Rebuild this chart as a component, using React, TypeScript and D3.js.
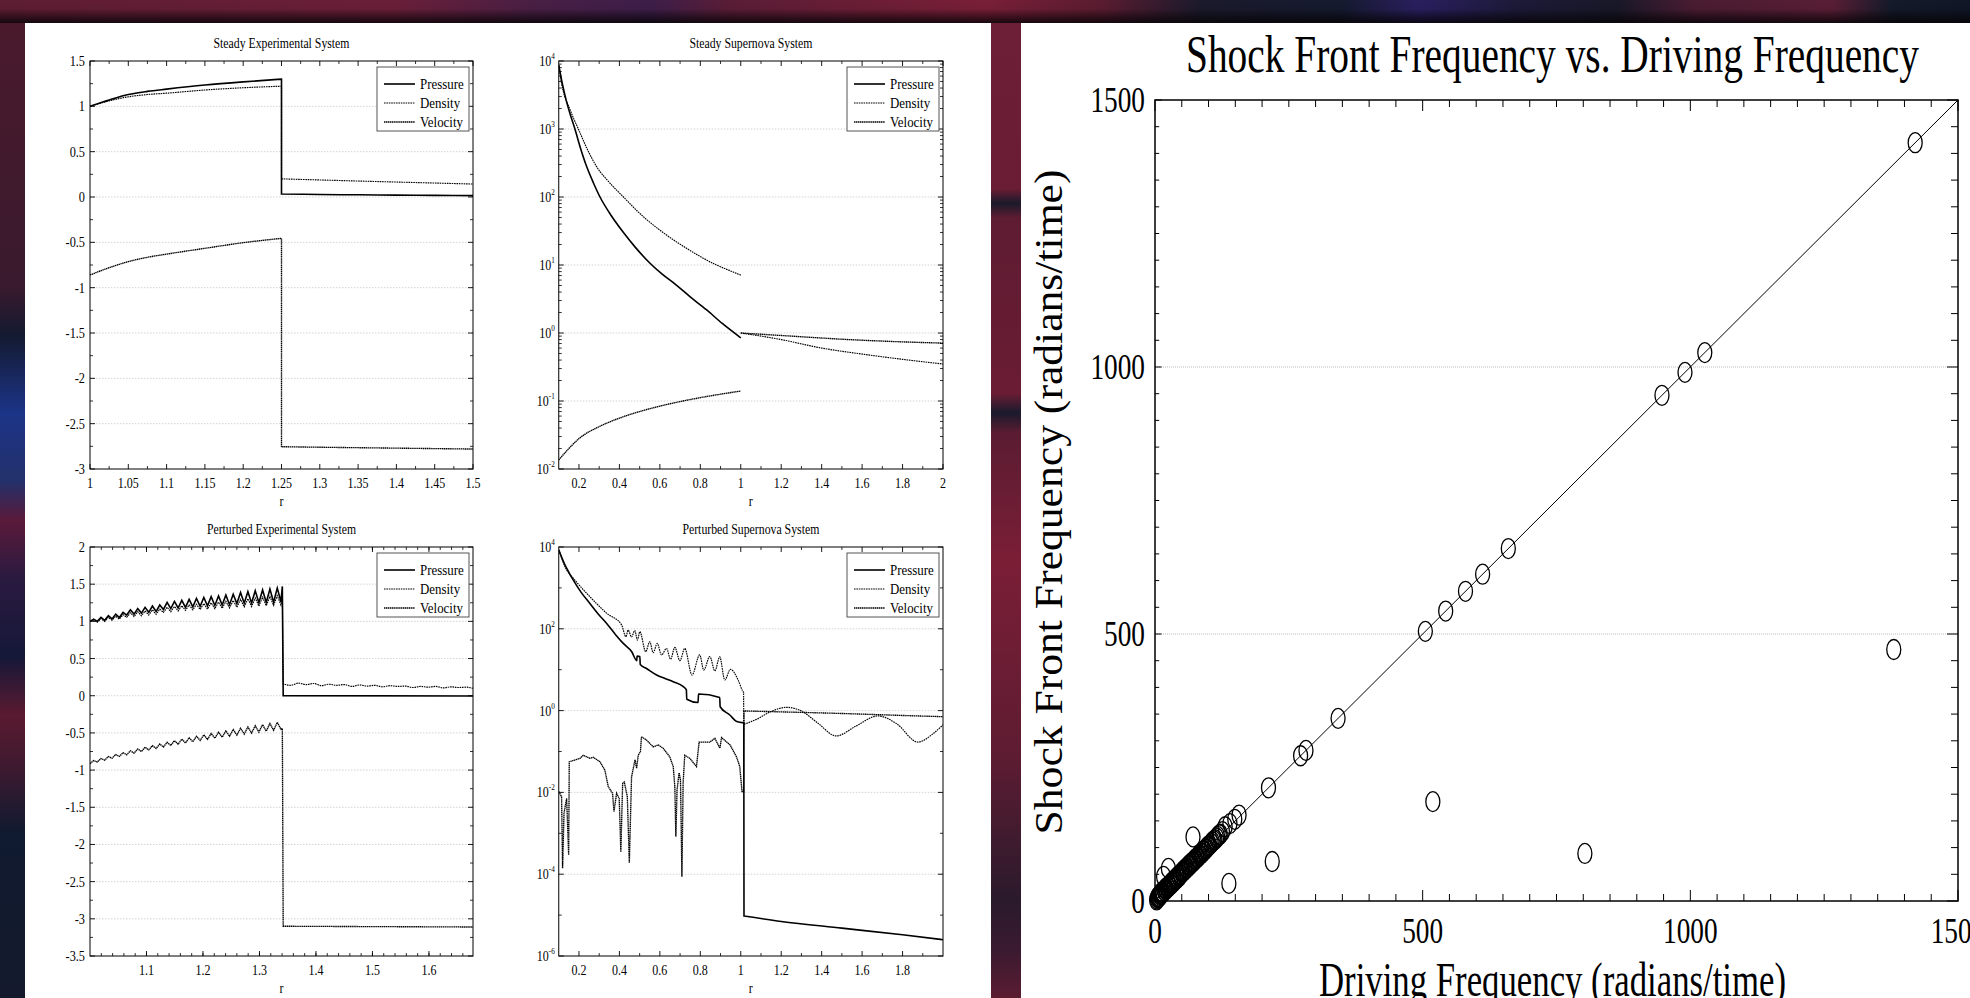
import React from "react";
import * as d3 from "d3";

const W = 1970;
const H = 998;
const FONT = "'Liberation Serif', 'Times New Roman', Times, serif";

// ---------------- Steady Experimental System ----------------
const seRIn = [1.0, 1.025, 1.05, 1.075, 1.1, 1.15, 1.2, 1.25];
const sePressureIn = [1.0, 1.07, 1.13, 1.165, 1.19, 1.235, 1.27, 1.3];
const seDensityIn = [1.0, 1.06, 1.105, 1.13, 1.145, 1.18, 1.205, 1.222];
const seVelocityIn = [-0.86, -0.78, -0.713, -0.665, -0.63, -0.566, -0.504, -0.456];
const seROut = [1.25, 1.3, 1.35, 1.4, 1.45, 1.5];
const sePressureOut = [0.033, 0.028, 0.024, 0.021, 0.018, 0.015];
const seDensityOut = [0.2, 0.188, 0.176, 0.165, 0.154, 0.143];
const seVelocityOut = [-2.754, -2.76, -2.765, -2.77, -2.775, -2.78];

// ---------------- Steady Supernova System ----------------
const ssPressureR = [0.1, 0.118, 0.136, 0.155, 0.18, 0.208, 0.238, 0.27, 0.304, 0.36, 0.42, 0.48, 0.55, 0.61, 0.68, 0.75, 0.83, 0.91, 1.0];
const ssPressure = [8700, 4600, 2700, 1700, 1000, 518, 280, 165, 100, 53, 30, 18, 10.7, 7.4, 5.1, 3.4, 2.2, 1.37, 0.85];
const ssDensityR = [0.1, 0.114, 0.155, 0.197, 0.24, 0.287, 0.35, 0.42, 0.51, 0.616, 0.74, 0.88, 0.94, 1.0];
const ssDensity = [8700, 4700, 1950, 1000, 513, 280, 164, 100, 54, 30, 17, 10, 8.4, 7.1];
const ssDensityOutR = [1.0, 1.2, 1.4, 1.6, 1.8, 2.0];
const ssDensityOut = [1.0, 0.8, 0.6, 0.49, 0.41, 0.35];
const ssVelocityR = [0.1, 0.15, 0.2, 0.3, 0.4, 0.5, 0.6, 0.7, 0.8, 0.9, 1.0];
const ssVelocity = [0.0136, 0.02, 0.028, 0.042, 0.056, 0.07, 0.084, 0.098, 0.112, 0.126, 0.14];
const ssVelocityOutR = [1.0, 1.25, 1.5, 1.75, 2.0];
const ssVelocityOut = [1.0, 0.9, 0.81, 0.75, 0.71];

// ---------------- Perturbed Experimental System ----------------
const peR = [1.0, 1.0065, 1.013, 1.0195, 1.026, 1.0325, 1.039, 1.0455, 1.052, 1.0585, 1.065, 1.0715, 1.078, 1.0845, 1.091, 1.0975, 1.104, 1.1105, 1.117, 1.1235, 1.13, 1.1365, 1.143, 1.1495, 1.156, 1.1625, 1.169, 1.1755, 1.182, 1.1885, 1.195, 1.2015, 1.208, 1.2145, 1.221, 1.2275, 1.234, 1.2405, 1.247, 1.2535, 1.26, 1.2665, 1.273, 1.2795, 1.286, 1.2925, 1.299, 1.3055, 1.312, 1.3185, 1.325, 1.3315, 1.338, 1.3405];
const pePressure = [1.0, 1.03, 1.0, 1.055, 1.015, 1.077, 1.033, 1.098, 1.052, 1.12, 1.085, 1.155, 1.098, 1.172, 1.111, 1.188, 1.122, 1.206, 1.132, 1.22, 1.16, 1.255, 1.171, 1.269, 1.18, 1.283, 1.188, 1.295, 1.196, 1.308, 1.203, 1.321, 1.209, 1.332, 1.214, 1.343, 1.219, 1.354, 1.224, 1.365, 1.239, 1.387, 1.243, 1.399, 1.247, 1.411, 1.251, 1.423, 1.255, 1.435, 1.259, 1.447, 1.263, 1.47];
const peDensity = [1.0, 1.015, 0.99, 1.035, 1.0, 1.055, 1.015, 1.07, 1.03, 1.09, 1.055, 1.115, 1.065, 1.13, 1.075, 1.14, 1.085, 1.155, 1.095, 1.165, 1.12, 1.19, 1.13, 1.2, 1.14, 1.21, 1.148, 1.22, 1.155, 1.23, 1.16, 1.24, 1.165, 1.25, 1.17, 1.26, 1.175, 1.27, 1.18, 1.28, 1.19, 1.295, 1.195, 1.305, 1.2, 1.315, 1.205, 1.325, 1.21, 1.335, 1.215, 1.345, 1.22, 1.3];
const peVelocity = [-0.915, -0.871, -0.891, -0.844, -0.866, -0.817, -0.841, -0.79, -0.817, -0.765, -0.794, -0.74, -0.772, -0.716, -0.75, -0.693, -0.729, -0.671, -0.709, -0.649, -0.689, -0.626, -0.669, -0.604, -0.652, -0.584, -0.635, -0.565, -0.619, -0.545, -0.602, -0.526, -0.587, -0.508, -0.572, -0.491, -0.558, -0.473, -0.544, -0.455, -0.53, -0.437, -0.515, -0.42, -0.502, -0.404, -0.49, -0.388, -0.477, -0.373, -0.465, -0.358, -0.451, -0.44];
const peROut = [1.342, 1.3555, 1.369, 1.3825, 1.396, 1.4095, 1.423, 1.4365, 1.45, 1.4635, 1.477, 1.4905, 1.504, 1.5175, 1.531, 1.5445, 1.558, 1.5715, 1.585, 1.5985, 1.612, 1.6255, 1.639, 1.6525, 1.666, 1.678];
const peDensityOut = [0.16, 0.14, 0.17, 0.15, 0.165, 0.135, 0.155, 0.14, 0.15, 0.125, 0.145, 0.13, 0.14, 0.12, 0.135, 0.125, 0.13, 0.11, 0.125, 0.115, 0.125, 0.105, 0.12, 0.11, 0.115, 0.1];
const peFlatR = [1.342, 1.678];
const pePressureOut = [0.002, -0.003];
const peVelocityOut = [-3.1, -3.11];

// ---------------- Perturbed Supernova System ----------------
const psPressureR = [0.1, 0.115, 0.13, 0.15, 0.172, 0.21, 0.254, 0.295, 0.337, 0.38, 0.419, 0.461, 0.486, 0.487, 0.501, 0.503, 0.534, 0.584, 0.625, 0.666, 0.716, 0.731, 0.733, 0.789, 0.791, 0.896, 0.898, 0.946, 0.98, 1.015];
const psPressure = [8500, 5500, 3700, 2400, 1550, 790, 415, 230, 135, 73, 44, 27.5, 16.6, 21.5, 21, 13.4, 10.7, 7.4, 6.1, 5.1, 3.85, 3.2, 1.9, 1.58, 2.55, 2.1, 1.24, 0.78, 0.54, 0.5];
const psPressureOutR = [1.016, 1.2, 1.5, 1.8, 2.0];
const psPressureOut = [9.5e-6, 7e-6, 4.8e-6, 3.3e-6, 2.5e-6];
const psDensityR = [0.1, 0.139, 0.172, 0.254, 0.337, 0.411, 0.432, 0.443, 0.46, 0.476, 0.489, 0.501, 0.53, 0.55, 0.567, 0.587, 0.608, 0.633, 0.653, 0.674, 0.699, 0.723, 0.759, 0.797, 0.817, 0.847, 0.872, 0.896, 0.921, 0.949, 0.987, 1.008, 1.014];
const psDensity = [8500, 2750, 1720, 610, 240, 124, 64, 93, 63, 91, 53, 85, 27.5, 48, 26, 44, 23, 33, 18, 35, 16.6, 33, 7.4, 23, 9.8, 21, 9.3, 20.5, 5.6, 10.2, 5.6, 3.1, 2.8];
const psDensityOutR = [1.015, 1.08, 1.15, 1.226, 1.3, 1.38, 1.472, 1.57, 1.678, 1.77, 1.876, 1.95, 2.0];
const psDensityOut = [0.46, 0.62, 0.95, 1.2, 0.98, 0.5, 0.24, 0.42, 0.74, 0.48, 0.17, 0.27, 0.45];
const psVelocityR = [0.1, 0.114, 0.119, 0.126, 0.139, 0.149, 0.152, 0.205, 0.221, 0.254, 0.271, 0.304, 0.328, 0.345, 0.366, 0.373, 0.386, 0.399, 0.407, 0.416, 0.424, 0.439, 0.449, 0.46, 0.477, 0.485, 0.493, 0.504, 0.509, 0.534, 0.567, 0.592, 0.616, 0.649, 0.666, 0.674, 0.679, 0.685, 0.695, 0.702, 0.709, 0.715, 0.723, 0.748, 0.781, 0.794, 0.847, 0.872, 0.897, 0.905, 0.947, 0.979, 0.995, 1.006, 1.014];
const psVelocity = [0.0105, 0.0079, 1.4e-4, 0.0031, 0.0071, 2.95e-4, 0.056, 0.068, 0.081, 0.068, 0.072, 0.056, 0.035, 0.0138, 0.0095, 0.0034, 0.0095, 0.0071, 3.5e-4, 0.0166, 0.018, 0.0079, 1.9e-4, 0.024, 0.062, 0.039, 0.081, 0.1, 0.23, 0.19, 0.13, 0.145, 0.12, 0.074, 0.043, 0.0138, 8.3e-4, 0.0115, 0.03, 0.02, 8.7e-5, 0.0166, 0.081, 0.068, 0.043, 0.17, 0.17, 0.21, 0.12, 0.22, 0.145, 0.074, 0.043, 0.0105, 0.0105];
const psVelocityOutR = [1.016, 1.2, 1.5, 1.8, 2.0];
const psVelocityOut = [0.98, 0.93, 0.85, 0.76, 0.71];

// ---------------- Shock Front Frequency vs Driving Frequency ----------------
const drivingFreq = [1420, 1027, 990, 947, 660, 612, 580, 543, 505, 342, 282, 272, 212, 1380, 519, 803, 219, 138, 71, 25, 16, 11, 157, 149, 140, 131, 126, 120, 115, 110, 105, 100, 96, 92, 88, 84, 80, 76, 72, 68, 64, 60, 56, 52, 48, 45, 42, 39, 36, 33, 30, 27, 24, 21, 18, 15, 12, 10, 8, 6, 4, 3,
  5, 7, 9, 11, 13, 14, 17, 19, 20, 23, 26, 29, 32, 35, 38, 41, 44, 47, 50, 53, 55, 58, 62, 65, 67, 70, 74, 78, 82, 86, 90, 94, 98, 102, 107, 112, 117, 122];
const shockFreq = [1420, 1027, 990, 947, 660, 612, 580, 543, 505, 342, 282, 272, 212, 471, 186, 89, 74, 33, 120, 61, 46, 15, 161, 153, 145, 139, 130, 124, 118, 113, 108, 103, 98, 94, 90, 86, 82, 78, 74, 70, 66, 62, 58, 54, 50, 46, 43, 40, 37, 34, 31, 28, 25, 22, 19, 16, 13, 10, 8, 6, 4, 2,
  7, 9, 12, 13, 16, 17, 20, 22, 24, 26, 29, 32, 36, 38, 42, 44, 48, 50, 54, 56, 59, 61, 66, 68, 71, 73, 78, 81, 86, 89, 94, 97, 102, 105, 111, 115, 121, 125];
const freqTicks = [0, 500, 1000, 1500];
const legendNames = ["Pressure", "Density", "Velocity"];

// ---------------- helpers ----------------
type Seg = { r: number[]; v: number[]; smooth?: boolean };
type SeriesDef = { style: "p" | "d" | "v"; segs: Seg[]; connect: boolean };

const STYLES: Record<string, { stroke: string; width: number; dash?: string }> = {
  p: { stroke: "#000", width: 1.6 },
  d: { stroke: "#000", width: 1.15, dash: "1.6 0.8" },
  v: { stroke: "#000", width: 1.35, dash: "1.4 0.5" },
};

function seriesPath(s: SeriesDef, xs: any, ys: any): string {
  let d = "";
  s.segs.forEach((seg, i) => {
    const pts = seg.r.map((r, k) => [xs(r), ys(seg.v[k])] as [number, number]);
    const gen = d3.line().curve(seg.smooth ? d3.curveMonotoneX : d3.curveLinear);
    let p = gen(pts) || "";
    if (i > 0 && s.connect) p = "L" + p.slice(1);
    d += p;
  });
  return d;
}

function SText(props: { x: number; y: number; sx?: number; anchor?: string; size: number; children: any }) {
  const { x, y, sx = 0.8, anchor = "middle", size, children } = props;
  return (
    <text transform={`translate(${x},${y}) scale(${sx},1)`} textAnchor={anchor as any} fontSize={size} fontFamily={FONT} fill="#000">
      {children}
    </text>
  );
}

function FitText(props: { x: number; y: number; w: number; sx: number; size: number; rotate?: number; children: any }) {
  const { x, y, w, sx, size, rotate = 0, children } = props;
  return (
    <text
      transform={`translate(${x},${y}) rotate(${rotate}) scale(${sx},1)`}
      textAnchor="middle"
      fontSize={size}
      fontFamily={FONT}
      textLength={w / sx}
      lengthAdjust="spacingAndGlyphs"
      fill="#000"
    >
      {children}
    </text>
  );
}

type SubProps = {
  id: string;
  x0: number; x1: number; y0: number; y1: number;
  xDomain: [number, number]; yDomain: [number, number]; log: boolean;
  xMajor: number[]; xLabels: string[]; xMinor: number[];
  yMajor: number[]; yLabels: string[]; yMinor: number[]; yGrid: number[];
  title: string; titleW: number;
  series: SeriesDef[];
};

function Subplot(p: SubProps) {
  const xs = d3.scaleLinear().domain(p.xDomain).range([p.x0, p.x1]);
  const ys = p.log
    ? d3.scaleLog().domain(p.yDomain).range([p.y1, p.y0])
    : d3.scaleLinear().domain(p.yDomain).range([p.y1, p.y0]);
  const cx = (p.x0 + p.x1) / 2;
  const lx = p.x1 - 96;
  const ly = p.y0 + 6;
  return (
    <g>
      <defs>
        <clipPath id={p.id}>
          <rect x={p.x0} y={p.y0} width={p.x1 - p.x0} height={p.y1 - p.y0} />
        </clipPath>
      </defs>
      {p.yGrid.map((v, i) => (
        <line key={"g" + i} x1={p.x0} x2={p.x1} y1={ys(v)} y2={ys(v)} stroke="#c8c8c8" strokeWidth={0.8} strokeDasharray="1.5 1.5" />
      ))}
      <g clipPath={`url(#${p.id})`}>
        {p.series.map((s, i) => {
          const st = STYLES[s.style];
          return (
            <path key={"s" + i} d={seriesPath(s, xs, ys)} fill="none" stroke={st.stroke} strokeWidth={st.width} strokeDasharray={st.dash} />
          );
        })}
      </g>
      {p.xMinor.map((v, i) => (
        <g key={"xm" + i}>
          <line x1={xs(v)} x2={xs(v)} y1={p.y1} y2={p.y1 - 3} stroke="#000" strokeWidth={0.8} />
          <line x1={xs(v)} x2={xs(v)} y1={p.y0} y2={p.y0 + 3} stroke="#000" strokeWidth={0.8} />
        </g>
      ))}
      {p.xMajor.map((v, i) => (
        <g key={"xM" + i}>
          <line x1={xs(v)} x2={xs(v)} y1={p.y1} y2={p.y1 - 5} stroke="#000" strokeWidth={0.9} />
          <line x1={xs(v)} x2={xs(v)} y1={p.y0} y2={p.y0 + 5} stroke="#000" strokeWidth={0.9} />
          <SText x={xs(v)} y={p.y1 + 19} size={15} sx={0.8}>{p.xLabels[i]}</SText>
        </g>
      ))}
      {p.yMinor.map((v, i) => (
        <g key={"ym" + i}>
          <line x1={p.x0} x2={p.x0 + 3} y1={ys(v)} y2={ys(v)} stroke="#000" strokeWidth={0.8} />
          <line x1={p.x1} x2={p.x1 - 3} y1={ys(v)} y2={ys(v)} stroke="#000" strokeWidth={0.8} />
        </g>
      ))}
      {p.yMajor.map((v, i) => (
        <g key={"yM" + i}>
          <line x1={p.x0} x2={p.x0 + 5} y1={ys(v)} y2={ys(v)} stroke="#000" strokeWidth={0.9} />
          <line x1={p.x1} x2={p.x1 - 5} y1={ys(v)} y2={ys(v)} stroke="#000" strokeWidth={0.9} />
          {p.log ? (
            <SText x={p.x0 - 4} y={ys(v) + 5} size={15} sx={0.8} anchor="end">
              10<tspan dy={-7} fontSize={9}>{p.yLabels[i]}</tspan>
            </SText>
          ) : (
            <SText x={p.x0 - 5} y={ys(v) + 5} size={15} sx={0.82} anchor="end">{p.yLabels[i]}</SText>
          )}
        </g>
      ))}
      <rect x={p.x0} y={p.y0} width={p.x1 - p.x0} height={p.y1 - p.y0} fill="none" stroke="#000" strokeWidth={1} />
      <FitText x={cx} y={p.y0 - 13} w={p.titleW} sx={0.8} size={15}>{p.title}</FitText>
      <SText x={cx} y={p.y1 + 37} size={15} sx={0.8}>r</SText>
      <rect x={lx} y={ly} width={92} height={64} fill="#fff" stroke="#555" strokeWidth={1} />
      {legendNames.map((n, i) => {
        const st = STYLES[["p", "d", "v"][i]];
        const yy = ly + 17 + i * 19;
        return (
          <g key={"l" + i}>
            <line x1={lx + 7} x2={lx + 38} y1={yy} y2={yy} stroke={st.stroke} strokeWidth={st.width} strokeDasharray={st.dash} />
            <SText x={lx + 43} y={yy + 5} size={15} sx={0.86} anchor="start">{n}</SText>
          </g>
        );
      })}
    </g>
  );
}

function range(a: number, b: number, step: number): number[] {
  return d3.range(Math.round((b - a) / step) + 1).map((i) => +(a + i * step).toFixed(4));
}

function logMinor(lo: number, hi: number): number[] {
  const out: number[] = [];
  for (let e = lo; e < hi; e++) {
    for (let k = 2; k <= 9; k++) out.push(k * Math.pow(10, e));
  }
  return out;
}

function ShockChart() {
  const x0 = 1155, x1 = 1958, y0 = 100, y1 = 901;
  const xs = d3.scaleLinear().domain([0, 1500]).range([x0, x1]);
  const ys = d3.scaleLinear().domain([0, 1500]).range([y1, y0]);
  const minor = d3.range(0, 1501, 50);
  return (
    <g>
      <defs>
        <clipPath id="shockclip">
          <rect x={x0 - 10} y={y0} width={x1 - x0 + 10} height={y1 - y0 + 12} />
        </clipPath>
      </defs>
      {[500, 1000].map((v) => (
        <line key={"gg" + v} x1={x0} x2={x1} y1={ys(v)} y2={ys(v)} stroke="#aaa" strokeWidth={0.8} strokeDasharray="1 1" />
      ))}
      {minor.map((v) => {
        const len = v % 500 === 0 ? 11 : 7;
        return (
          <g key={"t" + v}>
            <line x1={xs(v)} x2={xs(v)} y1={y1} y2={y1 - len} stroke="#000" strokeWidth={1} />
            <line x1={xs(v)} x2={xs(v)} y1={y0} y2={y0 + len} stroke="#000" strokeWidth={1} />
            <line x1={x0} x2={x0 + len * 0.6} y1={ys(v)} y2={ys(v)} stroke="#000" strokeWidth={1} />
            <line x1={x1} x2={x1 - len} y1={ys(v)} y2={ys(v)} stroke="#000" strokeWidth={1} />
          </g>
        );
      })}
      <line x1={xs(0)} y1={ys(0)} x2={xs(1500)} y2={ys(1500)} stroke="#000" strokeWidth={1} />
      <g clipPath="url(#shockclip)">
        {drivingFreq.map((d, i) => (
          <ellipse key={"c" + i} cx={xs(d)} cy={ys(shockFreq[i])} rx={7} ry={10} fill="none" stroke="#000" strokeWidth={1.3} />
        ))}
      </g>
      <rect x={x0} y={y0} width={x1 - x0} height={y1 - y0} fill="none" stroke="#000" strokeWidth={1.5} />
      {freqTicks.map((v) => (
        <SText key={"yl" + v} x={x0 - 10} y={ys(v) + 12} size={35} sx={0.78} anchor="end">{String(v)}</SText>
      ))}
      {freqTicks.map((v) => (
        <SText key={"xl" + v} x={xs(v)} y={y1 + 42} size={35} sx={0.78}>{String(v)}</SText>
      ))}
      <FitText x={(x0 + x1) / 2 - 4} y={72} w={733} sx={0.745} size={53}>Shock Front Frequency vs. Driving Frequency</FitText>
      <FitText x={(x0 + x1) / 2 - 4} y={996} w={467} sx={0.725} size={48}>Driving Frequency (radians/time)</FitText>
      <FitText x={1062} y={502} w={665} sx={1.09} size={40} rotate={-90}>Shock Front Frequency (radians/time)</FitText>
    </g>
  );
}

export default function App() {
  const seSeries: SeriesDef[] = [
    { style: "d", connect: true, segs: [{ r: seRIn, v: seDensityIn, smooth: true }, { r: seROut, v: seDensityOut, smooth: true }] },
    { style: "v", connect: true, segs: [{ r: seRIn, v: seVelocityIn, smooth: true }, { r: seROut, v: seVelocityOut, smooth: true }] },
    { style: "p", connect: true, segs: [{ r: seRIn, v: sePressureIn, smooth: true }, { r: seROut, v: sePressureOut, smooth: true }] },
  ];
  const ssSeries: SeriesDef[] = [
    { style: "d", connect: false, segs: [{ r: ssDensityR, v: ssDensity, smooth: true }, { r: ssDensityOutR, v: ssDensityOut, smooth: true }] },
    { style: "v", connect: false, segs: [{ r: ssVelocityR, v: ssVelocity, smooth: true }, { r: ssVelocityOutR, v: ssVelocityOut, smooth: true }] },
    { style: "p", connect: false, segs: [{ r: ssPressureR, v: ssPressure, smooth: true }] },
  ];
  const peSeries: SeriesDef[] = [
    { style: "d", connect: true, segs: [{ r: peR, v: peDensity }, { r: peROut, v: peDensityOut, smooth: true }] },
    { style: "v", connect: true, segs: [{ r: peR, v: peVelocity }, { r: peFlatR, v: peVelocityOut }] },
    { style: "p", connect: true, segs: [{ r: peR, v: pePressure }, { r: peFlatR, v: pePressureOut }] },
  ];
  const psSeries: SeriesDef[] = [
    { style: "d", connect: true, segs: [{ r: psDensityR, v: psDensity, smooth: true }, { r: psDensityOutR, v: psDensityOut, smooth: true }] },
    { style: "v", connect: true, segs: [{ r: psVelocityR, v: psVelocity }, { r: psVelocityOutR, v: psVelocityOut, smooth: true }] },
    { style: "p", connect: true, segs: [{ r: psPressureR, v: psPressure, smooth: true }, { r: psPressureOutR, v: psPressureOut, smooth: true }] },
  ];

  const seY = range(-3, 1.5, 0.5);
  const peY = range(-3.5, 2, 0.5);

  return (
    <div style={{ position: "fixed", left: 0, top: 0, width: W, height: H, overflow: "hidden" }}>
      <svg width={W} height={H} viewBox={`0 0 ${W} ${H}`} style={{ display: "block" }}>
        <defs>
          <linearGradient id="bgH" x1="0" x2="1" y1="0" y2="0">
            <stop offset="0" stopColor="#5e1d33" />
            <stop offset="0.2" stopColor="#6b1f38" />
            <stop offset="0.27" stopColor="#4a1f45" />
            <stop offset="0.33" stopColor="#3d1e4a" />
            <stop offset="0.37" stopColor="#5a1d36" />
            <stop offset="0.45" stopColor="#6e1e36" />
            <stop offset="0.5" stopColor="#7a1f38" />
            <stop offset="0.56" stopColor="#5a1c30" />
            <stop offset="0.61" stopColor="#1a1a2c" />
            <stop offset="0.68" stopColor="#151a2e" />
            <stop offset="0.72" stopColor="#2a1f60" />
            <stop offset="0.77" stopColor="#1c1a38" />
            <stop offset="0.82" stopColor="#181828" />
            <stop offset="0.86" stopColor="#4a1c32" />
            <stop offset="0.93" stopColor="#5a1e35" />
            <stop offset="0.96" stopColor="#141a2a" />
            <stop offset="1" stopColor="#101626" />
          </linearGradient>
          <linearGradient id="topShade" x1="0" x2="0" y1="0" y2="1">
            <stop offset="0" stopColor="#000" stopOpacity={0} />
            <stop offset="0.4" stopColor="#000" stopOpacity={0.05} />
            <stop offset="1" stopColor="#080408" stopOpacity={0.85} />
          </linearGradient>
          <linearGradient id="leftStrip" x1="0" x2="0" y1="0" y2="1">
            <stop offset="0" stopColor="#4a1a2c" />
            <stop offset="0.27" stopColor="#3a1a2e" />
            <stop offset="0.32" stopColor="#141a30" />
            <stop offset="0.4" stopColor="#1c3488" />
            <stop offset="0.47" stopColor="#23306a" />
            <stop offset="0.51" stopColor="#5a1a3a" />
            <stop offset="0.57" stopColor="#2a1a40" />
            <stop offset="0.65" stopColor="#151838" />
            <stop offset="0.71" stopColor="#5a1a30" />
            <stop offset="0.77" stopColor="#3a1a30" />
            <stop offset="0.83" stopColor="#101a30" />
            <stop offset="1" stopColor="#141a2c" />
          </linearGradient>
          <linearGradient id="gapStrip" x1="0" x2="0" y1="0" y2="1">
            <stop offset="0" stopColor="#6e1f38" />
            <stop offset="0.17" stopColor="#6a1c34" />
            <stop offset="0.185" stopColor="#1a1a2a" />
            <stop offset="0.2" stopColor="#5e1c32" />
            <stop offset="0.38" stopColor="#6a1c34" />
            <stop offset="0.4" stopColor="#1a1a2c" />
            <stop offset="0.42" stopColor="#5a1c32" />
            <stop offset="0.55" stopColor="#7a1e36" />
            <stop offset="0.75" stopColor="#5e1c32" />
            <stop offset="0.9" stopColor="#2a1a2c" />
            <stop offset="0.95" stopColor="#3a1a30" />
            <stop offset="1" stopColor="#5a1c32" />
          </linearGradient>
        </defs>
        <rect x={0} y={0} width={W} height={H} fill="url(#bgH)" />
        <rect x={0} y={23} width={25} height={H - 23} fill="url(#leftStrip)" />
        <rect x={991} y={23} width={30} height={H - 23} fill="url(#gapStrip)" />
        <rect x={0} y={0} width={W} height={23} fill="url(#topShade)" />
        <rect x={25} y={23} width={966} height={H - 23} fill="#fff" />
        <rect x={1021} y={23} width={W - 1021} height={H - 23} fill="#fff" />

        <Subplot
          id="c1" x0={90} x1={473} y0={61} y1={469}
          xDomain={[1, 1.5]} yDomain={[-3, 1.5]} log={false}
          xMajor={range(1, 1.5, 0.05)}
          xLabels={["1", "1.05", "1.1", "1.15", "1.2", "1.25", "1.3", "1.35", "1.4", "1.45", "1.5"]}
          xMinor={range(1.025, 1.475, 0.05)}
          yMajor={seY} yLabels={seY.map((v) => String(v))}
          yMinor={range(-2.75, 1.25, 0.5)}
          yGrid={range(-2.5, 1, 0.5)}
          title="Steady Experimental System" titleW={136}
          series={seSeries}
        />
        <Subplot
          id="c2" x0={558.75} x1={943} y0={61} y1={469}
          xDomain={[0.1, 2]} yDomain={[0.01, 10000]} log={true}
          xMajor={range(0.2, 2, 0.2)}
          xLabels={["0.2", "0.4", "0.6", "0.8", "1", "1.2", "1.4", "1.6", "1.8", "2"]}
          xMinor={range(0.3, 1.9, 0.2)}
          yMajor={[1e4, 1e3, 1e2, 1e1, 1, 0.1, 0.01]} yLabels={["4", "3", "2", "1", "0", "-1", "-2"]}
          yMinor={logMinor(-2, 4)}
          yGrid={[1e3, 1e2, 1e1, 1, 0.1]}
          title="Steady Supernova System" titleW={123}
          series={ssSeries}
        />
        <Subplot
          id="c3" x0={90} x1={473} y0={547} y1={956}
          xDomain={[1, 1.678]} yDomain={[-3.5, 2]} log={false}
          xMajor={range(1.1, 1.6, 0.1)}
          xLabels={["1.1", "1.2", "1.3", "1.4", "1.5", "1.6"]}
          xMinor={range(1.02, 1.66, 0.02)}
          yMajor={peY} yLabels={peY.map((v) => String(v))}
          yMinor={range(-3.25, 1.75, 0.5)}
          yGrid={range(-3, 1.5, 0.5)}
          title="Perturbed Experimental System" titleW={149}
          series={peSeries}
        />
        <Subplot
          id="c4" x0={558.75} x1={943} y0={547} y1={956}
          xDomain={[0.1, 2]} yDomain={[1e-6, 1e4]} log={true}
          xMajor={range(0.2, 1.8, 0.2)}
          xLabels={["0.2", "0.4", "0.6", "0.8", "1", "1.2", "1.4", "1.6", "1.8"]}
          xMinor={range(0.3, 1.9, 0.2)}
          yMajor={[1e4, 1e2, 1, 1e-2, 1e-4, 1e-6]} yLabels={["4", "2", "0", "-2", "-4", "-6"]}
          yMinor={[1e3, 1e1, 1e-1, 1e-3, 1e-5]}
          yGrid={[1e2, 1, 1e-2, 1e-4]}
          title="Perturbed Supernova System" titleW={137}
          series={psSeries}
        />
        <ShockChart />
      </svg>
    </div>
  );
}
